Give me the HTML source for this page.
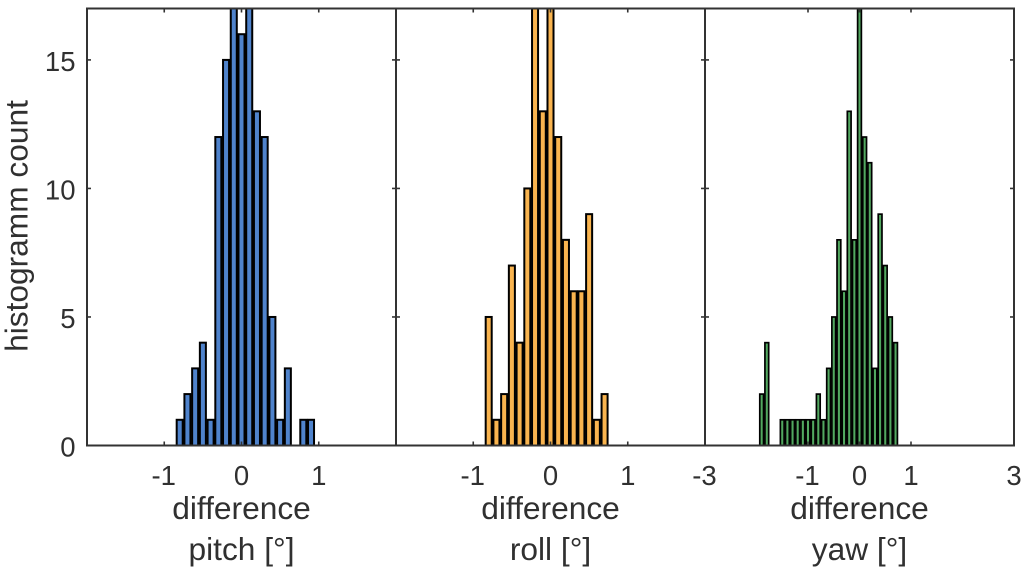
<!DOCTYPE html>
<html>
<head>
<meta charset="utf-8">
<title>Histogram of differences</title>
<style>
html,body{margin:0;padding:0;background:#fff;width:1024px;height:579px;overflow:hidden}
svg{display:block;filter:blur(0.35px)}
text{font-family:"Liberation Sans",sans-serif;fill:#303030}
</style>
</head>
<body>
<svg id="chart" xmlns="http://www.w3.org/2000/svg" width="1024" height="579" viewBox="0 0 1024 579"></svg>
<script>
// Chart data
const yTicks = [0, 5, 10, 15];
const yMax = 17;
const binWidth = 0.1;
const pitchCounts = [1,2,3,4,1,12,15,18,16,18,13,12,5,1,3,0,1,1];
const rollCounts = [5,1,2,7,4,10,18,13,18,12,8,6,6,9,1,2];
const yawCounts = [2,4,0,0,1,1,1,1,1,1,1,2,1,3,5,8,6,13,8,18,12,11,3,9,7,5,4];
const pitchStart = -0.85;
const rollStart = -0.85;
const yawStart = -1.95;
const pitchTicks = [-1, 0, 1];
const rollTicks = [-1, 0, 1];
const yawTicks = [-3, -1, 0, 1, 3];
const pitchRange = [-2, 2];
const rollRange = [-2, 2];
const yawRange = [-3, 3];

const NS = 'http://www.w3.org/2000/svg';
const svg = document.getElementById('chart');
const plotTop = 8.5, plotBottom = 445.5;

function yScale(v){ return plotBottom - (v / yMax) * (plotBottom - plotTop); }

function make(tag, attrs, parent){
  const el = document.createElementNS(NS, tag);
  for (const k in attrs) el.setAttribute(k, attrs[k]);
  (parent || svg).appendChild(el);
  return el;
}

function drawPanel(key, left, right, range, start, counts, ticks, fill, label, edge, inset){
  const xScale = v => left + (v - range[0]) / (range[1] - range[0]) * (right - left);
  const g = make('g', {});
  
  

  const clip = make('clipPath', {id: 'clip-' + key}, g);
  make('rect', {x: left, y: plotTop, width: right - left, height: plotBottom - plotTop}, clip);

  const bars = make('g', {'clip-path': 'url(#clip-' + key + ')'}, g);
  
  
  counts.forEach((c, i) => {
    if (c <= 0) return;
    const x0 = xScale(start + i * binWidth) + inset;
    const x1 = xScale(start + (i + 1) * binWidth) - inset;
    const r = make('rect', {x: x0, y: yScale(c), width: x1 - x0, height: plotBottom - yScale(c),
      fill: fill, stroke: '#000', 'stroke-width': edge}, bars);
    
    
  });

  const frame = make('rect', {x: left, y: plotTop, width: right - left, height: plotBottom - plotTop,
    fill: 'none', stroke: '#333', 'stroke-width': 2}, g);
  
  

  yTicks.forEach(v => {
    if (v === 0) return;
    const y = yScale(v);
    const t1 = make('line', {x1: left, x2: left + 4, y1: y, y2: y, stroke: '#333', 'stroke-width': 1.6}, g);
    
    
    const t2 = make('line', {x1: right, x2: right - 4, y1: y, y2: y, stroke: '#333', 'stroke-width': 1.6}, g);
    
    
  });

  ticks.forEach(v => {
    const x = xScale(v);
    const t1 = make('line', {x1: x, x2: x, y1: plotBottom, y2: plotBottom - 4, stroke: '#333', 'stroke-width': 1.6}, g);
    
    
    const t2 = make('line', {x1: x, x2: x, y1: plotTop, y2: plotTop + 4, stroke: '#333', 'stroke-width': 1.6}, g);
    
    
    const tl = make('text', {x: x - (v < 0 ? 0.5 : 0), y: 485, 'font-size': 27.5, 'text-anchor': 'middle'}, g);
    tl.textContent = String(v);
    
    
  });

  const cx = (left + right) / 2;
  const l1 = make('text', {x: cx, y: 519, 'font-size': 31.7, 'text-anchor': 'middle'}, g);
  l1.textContent = 'difference';
  
  
  const l2 = make('text', {x: cx, y: 560, 'font-size': 31.7, 'text-anchor': 'middle'}, g);
  l2.textContent = label;
  
  
}

drawPanel('pitch', 87, 396, pitchRange, pitchStart, pitchCounts, pitchTicks, '#4f83cc', 'pitch [°]', 2, 0.85);
drawPanel('roll', 396, 705, rollRange, rollStart, rollCounts, rollTicks, '#f9b44f', 'roll [°]', 2, 0.85);
drawPanel('yaw', 705, 1014, yawRange, yawStart, yawCounts, yawTicks, '#52a860', 'yaw [°]', 1.7, 0.7);

yTicks.forEach(v => {
  const t = make('text', {x: 75.5, y: yScale(v) + 11, 'font-size': 27.5, 'text-anchor': 'end'});
  t.textContent = String(v);
  
  
});

const yTitle = make('text', {x: 0, y: 0, 'font-size': 31.7, 'text-anchor': 'middle', transform: 'translate(27.5,226) rotate(-90)'});
yTitle.textContent = 'histogramm count';


</script>
</body>
</html>
